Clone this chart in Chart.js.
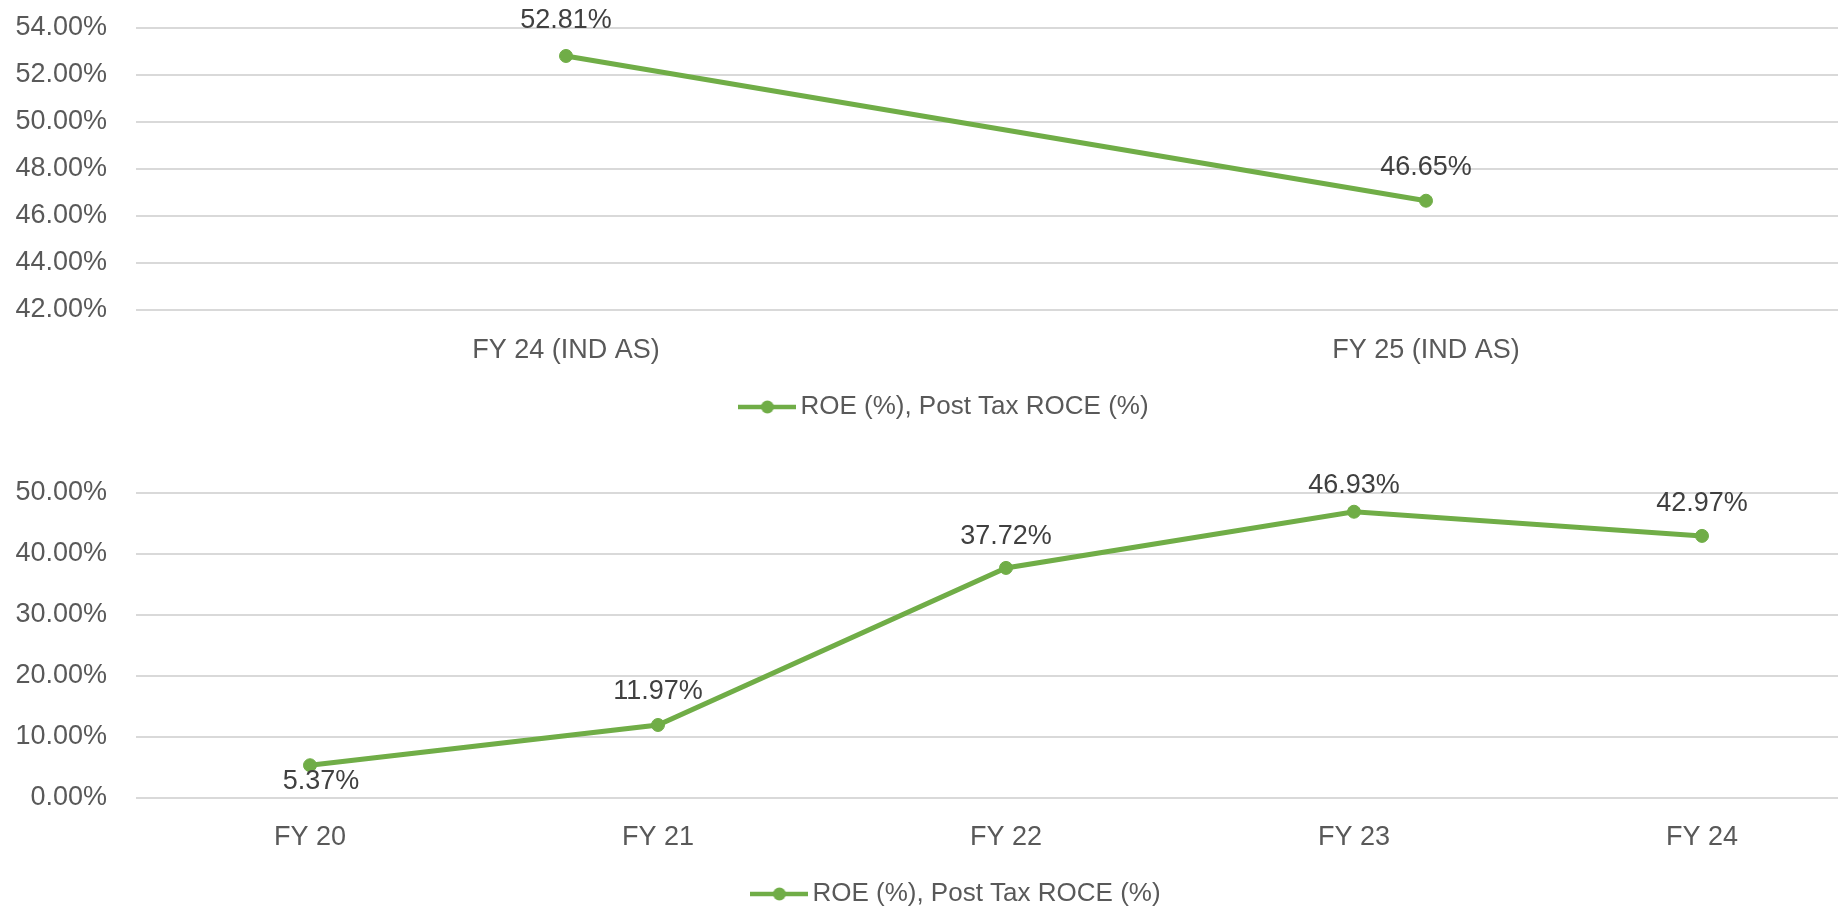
<!DOCTYPE html>
<html>
<head>
<meta charset="utf-8">
<script src="https://cdn.jsdelivr.net/npm/chart.js@4.4.1/dist/chart.umd.min.js"></script>
<style>
html, body { margin: 0; padding: 0; background: #fff; width: 1838px; height: 909px; overflow: hidden; position: relative; }
canvas { position: absolute; left: 0; }
</style>
</head>
<body>
<canvas id="topChart" width="1900" height="440" style="top:0"></canvas>
<canvas id="bottomChart" width="1900" height="480" style="top:440px"></canvas>
<script>
const seriesName = "ROE (%), Post Tax ROCE (%)";

const topLabels = ["FY 24 (IND AS)", "FY 25 (IND AS)"];
const topValues = [52.81, 46.65];
const topTicks = [42, 44, 46, 48, 50, 52, 54];

const bottomLabels = ["FY 20", "FY 21", "FY 22", "FY 23", "FY 24"];
const bottomValues = [5.37, 11.97, 37.72, 46.93, 42.97];
const bottomTicks = [0, 10, 20, 30, 40, 50];

const green = "#70AD47";
const fontFamily = '"Liberation Sans", Arial, sans-serif';

// line + dot legend marker, like the office one
function legendMarker() {
    const c = document.createElement("canvas");
    c.width = 58;
    c.height = 16;
    const g = c.getContext("2d");
    g.strokeStyle = green;
    g.lineWidth = 4.5;
    g.beginPath();
    g.moveTo(0, 8);
    g.lineTo(58, 8);
    g.stroke();
    g.fillStyle = green;
    g.beginPath();
    g.arc(29, 8, 6.5, 0, Math.PI * 2);
    g.fill();
    return c;
}

// value labels next to each point
const pointLabels = {
    id: "pointLabels",
    afterDatasetsDraw(chart, args, opts) {
        const ctx = chart.ctx;
        const meta = chart.getDatasetMeta(0);
        const values = chart.data.datasets[0].data;
        ctx.save();
        ctx.font = "27px " + fontFamily;
        ctx.fillStyle = "#404040";
        ctx.textAlign = "center";
        ctx.textBaseline = "middle";
        meta.data.forEach((pt, i) => {
            const off = (opts.offsets && opts.offsets[i]) || [0, -35];
            ctx.fillText(values[i].toFixed(2) + "%", pt.x + off[0], pt.y + off[1]);
        });
        ctx.restore();
    }
};

// nudge the legend sideways without moving the plot
const legendShift = {
    id: "legendShift",
    afterLayout(chart, args, opts) {
        const lg = chart.legend;
        if (!lg || !opts.dx) return;
        lg.left += opts.dx;
        lg.right += opts.dx;
    }
};

function makeChart(id, labels, values, ticks, lay) {
    const ctx = document.getElementById(id).getContext("2d");
    return new Chart(ctx, {
        type: "line",
        data: {
            labels: labels,
            datasets: [{
                label: seriesName,
                data: values,
                borderColor: green,
                backgroundColor: green,
                borderWidth: 5,
                pointRadius: 6.5,
                pointBorderWidth: 1,
                pointBackgroundColor: green,
                pointBorderColor: green,
                tension: 0
            }]
        },
        options: {
            responsive: false,
            animation: false,
            layout: { padding: { top: lay.top, left: 0, right: lay.right, bottom: lay.bottom } },
            scales: {
                x: {
                    offset: true,
                    grid: { display: false, drawTicks: false },
                    border: { display: false },
                    ticks: {
                        color: "#595959",
                        padding: lay.xPad,
                        font: { family: fontFamily, size: 27 }
                    },
                    afterFit: (s) => { s.height = lay.xHeight; }
                },
                y: {
                    min: ticks[0],
                    max: ticks[ticks.length - 1],
                    afterBuildTicks: (s) => { s.ticks = ticks.map(v => ({ value: v })); },
                    grid: { color: "#D9D9D9", lineWidth: 2, drawTicks: false },
                    border: { display: false },
                    ticks: {
                        color: "#595959",
                        padding: 29,
                        font: { family: fontFamily, size: 27 },
                        callback: (v) => Number(v).toFixed(2) + "%"
                    },
                    afterFit: (s) => {
                        s.width = lay.yWidth;
                        s.paddingTop = 0;
                        s.paddingBottom = 0;
                    }
                }
            },
            plugins: {
                legend: {
                    position: "bottom",
                    labels: {
                        usePointStyle: true,
                        pointStyle: legendMarker(),
                        pointStyleWidth: 40,
                        color: "#595959",
                        padding: 10,
                        font: { family: fontFamily, size: 26 }
                    }
                },
                tooltip: { enabled: false },
                pointLabels: { offsets: lay.offsets },
                legendShift: { dx: lay.legendDx }
            }
        },
        plugins: [pointLabels, legendShift]
    });
}

makeChart("topChart", topLabels, topValues, topTicks, {
    top: 28, right: 44, bottom: 10,
    yWidth: 136, xHeight: 74, xPad: 24, legendDx: 20,
    offsets: [[0, -35], [0, -33]]
});

makeChart("bottomChart", bottomLabels, bottomValues, bottomTicks, {
    top: 53, right: 24, bottom: 3,
    yWidth: 136, xHeight: 73, xPad: 23, legendDx: 22,
    offsets: [[11, 16], [0, -33], [0, -31], [0, -26], [0, -32]]
});
</script>
</body>
</html>
